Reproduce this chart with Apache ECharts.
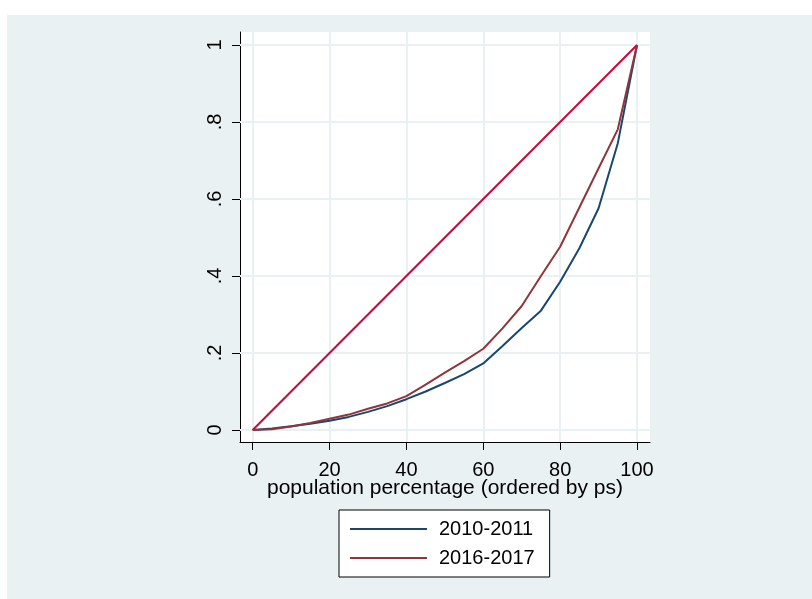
<!DOCTYPE html>
<html>
<head>
<meta charset="utf-8">
<script src="https://cdn.jsdelivr.net/npm/echarts@6/dist/echarts.min.js"></script>
<style>
  html, body { margin: 0; padding: 0; background: #fff; }
  #wrap { position: relative; width: 812px; height: 599px; background: #fff; }
  #chart { position: absolute; left: 7px; top: 15px; width: 805px; height: 584px; background: #eaf1f3; }
</style>
</head>
<body>
<div id="wrap"><div id="chart"></div></div>
<script>
// population percentage (x) and cumulative share (y)
const pct = [0, 5, 10, 15, 20, 25, 30, 35, 40, 45, 50, 55, 60, 65, 70, 75, 80, 85, 90, 95, 100];
const lorenz2010 = [0, 0.004, 0.010, 0.016, 0.024, 0.034, 0.047, 0.062, 0.080, 0.100, 0.122, 0.145, 0.173, 0.218, 0.265, 0.310, 0.385, 0.472, 0.576, 0.745, 1];
const lorenz2016 = [0, 0.002, 0.009, 0.018, 0.029, 0.040, 0.055, 0.069, 0.088, 0.118, 0.149, 0.179, 0.211, 0.264, 0.322, 0.400, 0.476, 0.578, 0.680, 0.781, 1];
const equalityX = [0, 100];
const equalityY = [0, 1];
const seriesNames = ['2010-2011', '2016-2017'];
const xTicks = [0, 20, 40, 60, 80, 100];
const yTicks = [0, 0.2, 0.4, 0.6, 0.8, 1];
const yTickLabels = ['0', '.2', '.4', '.6', '.8', '1'];

const font = "'Liberation Sans', Arial, sans-serif";
const gridColor = '#eaf1f3';

const chart = echarts.init(document.getElementById('chart'));

const option = {
  animation: false,
  textStyle: { fontFamily: font },
  grid: {
    left: 233, top: 17, width: 410, height: 410,
    show: true, backgroundColor: '#fff', borderWidth: 0
  },
  xAxis: {
    type: 'value',
    min: -3.305, max: 103.38,
    name: 'population percentage (ordered by ps)',
    nameLocation: 'middle',
    nameGap: 36,
    nameMoveOverlap: false,
    nameTextStyle: { color: '#000', fontSize: 21, fontFamily: font },
    axisLine: { show: true, onZero: false, lineStyle: { color: '#000', width: 1 } },
    axisTick: { show: true, length: 8, customValues: xTicks, lineStyle: { color: '#000' } },
    axisLabel: { customValues: xTicks, color: '#000', fontSize: 20, margin: 18, fontFamily: font },
    splitLine: { show: false }
  },
  yAxis: {
    type: 'value',
    min: -0.0312, max: 1.0338,
    axisLine: { show: true, onZero: false, lineStyle: { color: '#000', width: 1 } },
    axisTick: { show: true, length: 8, customValues: yTicks, lineStyle: { color: '#000' } },
    axisLabel: {
      customValues: yTicks, color: '#000', fontSize: 20, margin: 15, rotate: 90, fontFamily: font,
      formatter: v => yTickLabels[yTicks.findIndex(t => Math.abs(t - v) < 1e-9)]
    },
    splitLine: { show: false }
  },
  legend: {
    data: seriesNames,
    orient: 'vertical',
    left: 332, top: 495,
    padding: [9, 15, 9, 10],
    itemWidth: 77, itemHeight: 20, itemGap: 9,
    itemStyle: { opacity: 0, borderWidth: 0 },
    backgroundColor: '#fff',
    borderColor: '#000', borderWidth: 1, borderRadius: 0,
    textStyle: { color: '#000', fontSize: 20, fontFamily: font, padding: [0, 0, 0, 7] }
  },
  series: [
    {
      // grid lines spanning the whole plot region
      type: 'line', name: 'grid', data: [[0, 0]], symbol: 'none', z: 1, silent: true,
      lineStyle: { width: 0 },
      markLine: {
        z: 1, silent: true, symbol: ['none', 'none'], label: { show: false },
        lineStyle: { color: gridColor, width: 2, type: 'solid' },
        emphasis: { disabled: true },
        data: xTicks.map(v => ({ xAxis: v })).concat(yTicks.map(v => ({ yAxis: v })))
      }
    },
    {
      type: 'line', name: 'equality', z: 10, symbol: 'none',
      data: equalityX.map((x, i) => [x, equalityY[i]]),
      lineStyle: { color: '#c9073a', width: 2 }
    },
    {
      type: 'line', name: seriesNames[0], z: 11, symbol: 'none',
      data: pct.map((x, i) => [x, lorenz2010[i]]),
      color: '#1a476f',
      lineStyle: { color: '#1a476f', width: 2 }
    },
    {
      type: 'line', name: seriesNames[1], z: 12, symbol: 'none',
      data: pct.map((x, i) => [x, lorenz2016[i]]),
      color: '#90353b',
      lineStyle: { color: '#90353b', width: 2 }
    }
  ]
};

chart.setOption(option);
</script>
</body>
</html>
